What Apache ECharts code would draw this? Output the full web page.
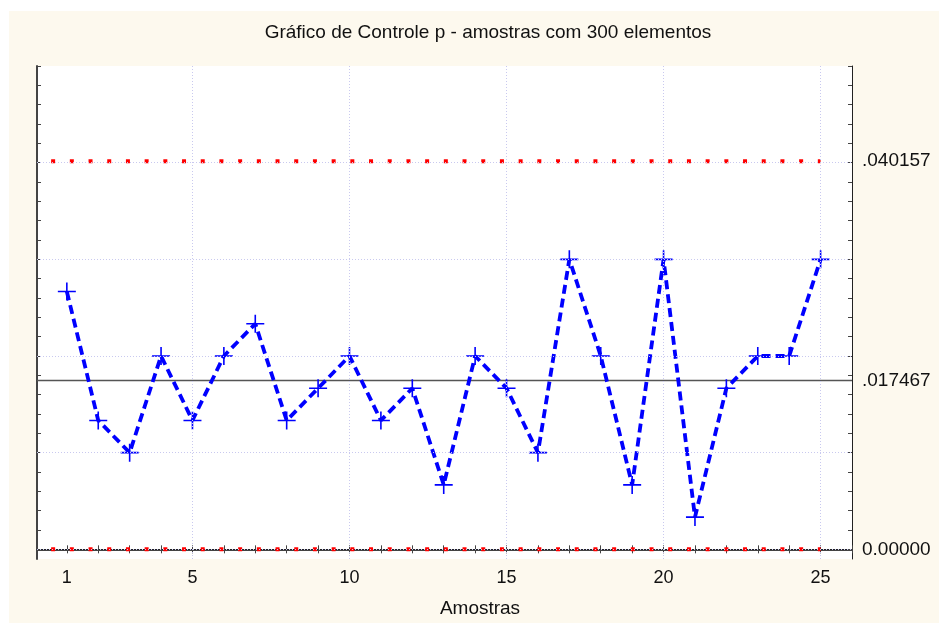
<!DOCTYPE html>
<html>
<head>
<meta charset="utf-8">
<script src="https://cdn.jsdelivr.net/npm/echarts@6/dist/echarts.min.js"></script>
<style>
  html, body { margin: 0; padding: 0; background: #ffffff; }
  #chart { width: 939px; height: 623px; }
</style>
</head>
<body>
<div id="chart"></div>
<script>
// sample numbers and the proportion of defectives
const samples = [1, 2, 3, 4, 5, 6, 7, 8, 9, 10, 11, 12, 13, 14, 15, 16, 17, 18, 19, 20, 21, 22, 23, 24, 25];
const proportions = [
  0.026667, 0.013333, 0.01, 0.02, 0.013333, 0.02, 0.023333, 0.013333, 0.016667, 0.02,
  0.013333, 0.016667, 0.006667, 0.02, 0.016667, 0.01, 0.03, 0.02, 0.006667, 0.03,
  0.003333, 0.016667, 0.02, 0.02, 0.03,
];
const ucl = 0.040157;
const centerLine = 0.017467;
const lcl = 0;
const limitSpan = [0.5, 25];
const centerSpan = [0.05, 26];
const xTickLabels = [1, 5, 10, 15, 20, 25];
const xGridValues = [5, 10, 15, 20, 25];
const yGridValues = [0, 0.01, 0.02, 0.03, 0.04];
const rightLabelValues = [0, 0.017467, 0.040157];
const rightLabelTexts = ['0.00000', '.017467', '.040157'];

const FONT = 'Liberation Sans, Arial, sans-serif';
const xTicks = Array.from({ length: 26 }, (_, i) => i + 1);
const yTicks = Array.from({ length: 26 }, (_, i) => +(i * 0.002).toFixed(3));

const chart = echarts.init(document.getElementById('chart'));

const crossPath = 'path://M-0.8,-9 L0.8,-9 L0.8,-0.8 L9,-0.8 L9,0.8 L0.8,0.8 L0.8,9 L-0.8,9 L-0.8,0.8 L-9,0.8 L-9,-0.8 L-0.8,-0.8 Z';
const gridStyle = { color: '#c9c9ef', type: [1, 2], width: 1 };

const option = {
  animation: false,
  backgroundColor: '#ffffff',
  graphic: [
    {
      type: 'rect',
      z: -10,
      shape: { x: 9, y: 11, width: 930, height: 612 },
      style: { fill: '#fdf9ee' },
    },
    {
      type: 'text',
      x: 488,
      y: 33,
      style: {
        text: 'Gráfico de Controle p - amostras com 300 elementos',
        font: '19px ' + FONT,
        fill: '#111',
        align: 'center',
        verticalAlign: 'middle',
      },
    },
    {
      type: 'text',
      x: 480,
      y: 609,
      style: {
        text: 'Amostras',
        font: '19px ' + FONT,
        fill: '#111',
        align: 'center',
        verticalAlign: 'middle',
      },
    },
  ],
  grid: {
    left: 37,
    top: 66,
    right: 87,
    bottom: 64,
    show: true,
    backgroundColor: '#ffffff',
    borderWidth: 0,
  },
  xAxis: [
    {
      type: 'value',
      min: 0.05,
      max: 26,
      position: 'bottom',
      axisLine: { show: true, lineStyle: { color: '#444', width: 2 } },
      axisTick: { show: true, inside: true, length: 4, customValues: xTicks, lineStyle: { color: '#444' } },
      axisLabel: { customValues: xTickLabels, margin: 10, fontSize: 18, color: '#111', fontFamily: FONT },
      splitLine: { show: false },
    },
    {
      type: 'value',
      min: 0.05,
      max: 26,
      position: 'top',
      axisLine: { show: true, lineStyle: { color: '#222', width: 1 } },
      axisTick: { show: true, inside: true, length: 4, customValues: xTicks, lineStyle: { color: '#444' } },
      axisLabel: { show: false },
      splitLine: { show: false },
    },
  ],
  yAxis: [
    {
      type: 'value',
      min: -0.001,
      max: 0.05,
      position: 'left',
      axisLine: { show: true, lineStyle: { color: '#444', width: 2 } },
      axisTick: { show: true, inside: true, length: 4, customValues: yTicks, lineStyle: { color: '#444' } },
      axisLabel: { show: false },
      splitLine: { show: false },
    },
    {
      type: 'value',
      min: -0.001,
      max: 0.05,
      position: 'right',
      axisLine: { show: true, lineStyle: { color: '#222', width: 1 } },
      axisTick: { show: true, inside: true, length: 4, customValues: yTicks, lineStyle: { color: '#444' } },
      axisLabel: {
        show: true,
        customValues: rightLabelValues,
        margin: 10,
        fontSize: 19,
        color: '#111',
        fontFamily: FONT,
        formatter: (v) => {
          const i = rightLabelValues.findIndex((r) => Math.abs(r - v) < 1e-7);
          return i >= 0 ? rightLabelTexts[i] : '';
        },
      },
      splitLine: { show: false },
    },
  ],
  series: [
    {
      // dotted grid lines
      type: 'line',
      data: [],
      silent: true,
      markLine: {
        symbol: 'none',
        silent: true,
        label: { show: false },
        data: [
          ...yGridValues.map((v) => ({ yAxis: v, lineStyle: gridStyle })),
          ...xGridValues.map((v) => ({ xAxis: v, lineStyle: gridStyle })),
        ],
      },
      z: 1,
    },
    {
      name: 'CL',
      type: 'line',
      data: centerSpan.map((x) => [x, centerLine]),
      symbol: 'none',
      silent: true,
      lineStyle: { color: '#555', width: 1.3 },
      z: 2,
    },
    {
      name: 'UCL',
      type: 'line',
      data: limitSpan.map((x) => [x, ucl]),
      symbol: 'none',
      silent: true,
      lineStyle: { color: '#ff0000', width: 4, type: [4, 14.7], cap: 'butt' },
      z: 2,
    },
    {
      name: 'LCL',
      type: 'line',
      data: limitSpan.map((x) => [x, lcl]),
      symbol: 'none',
      silent: true,
      lineStyle: { color: '#ff0000', width: 4, type: [4, 14.7], cap: 'butt' },
      z: 2,
    },
    {
      name: 'p',
      type: 'line',
      data: samples.map((s, i) => [s, proportions[i]]),
      symbol: crossPath,
      symbolSize: 18,
      itemStyle: { color: '#0000ff' },
      lineStyle: { color: '#0000ff', width: 3.8, type: [9, 5] },
      z: 3,
    },
  ],
};

chart.setOption(option);
</script>
</body>
</html>
